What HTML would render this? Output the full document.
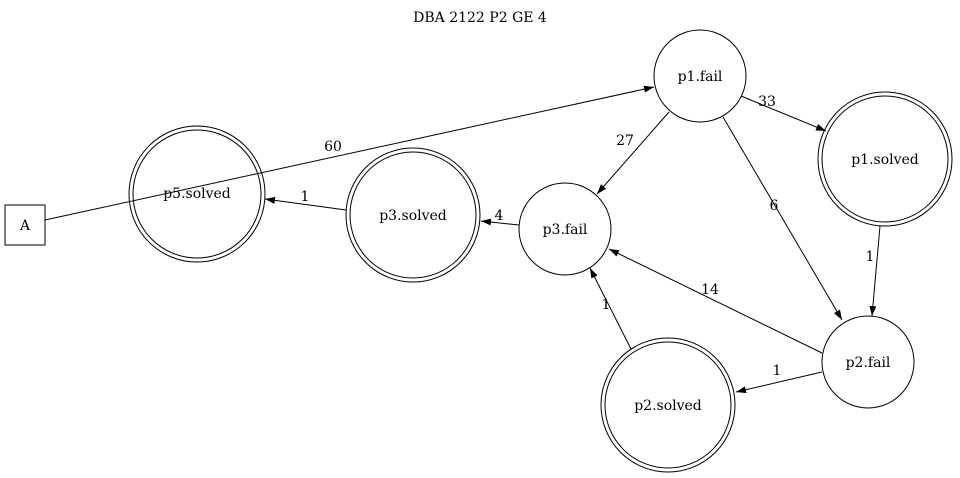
<!DOCTYPE html>
<html><head><meta charset="utf-8"><style>
html,body{margin:0;padding:0;background:#fff;}
svg{display:block;}
text{font-family:"DejaVu Serif",serif;font-size:14px;fill:#000;}
</style></head><body>
<svg width="960" height="478" viewBox="0 0 960 478" xmlns="http://www.w3.org/2000/svg">
<defs>
<marker id="a" viewBox="0 0 10 10" refX="10" refY="5" markerWidth="10" markerHeight="10" markerUnits="userSpaceOnUse" orient="auto">
<path d="M0,1.5 L10,5 L0,8.5 z" fill="#000"/>
</marker>
</defs>
<text x="480" y="22" text-anchor="middle">DBA 2122 P2 GE 4</text>
<g fill="none" stroke="#000" stroke-width="1">
<rect x="5" y="205" width="40" height="40"/>
<circle cx="197" cy="194" r="68"/><circle cx="197" cy="194" r="64"/>
<circle cx="413" cy="215" r="67"/><circle cx="413" cy="215" r="63"/>
<circle cx="565" cy="229" r="46"/>
<circle cx="700" cy="76" r="46"/>
<circle cx="885" cy="159" r="67"/><circle cx="885" cy="159" r="63"/>
<circle cx="868" cy="362" r="46"/>
<circle cx="668" cy="405" r="67"/><circle cx="668" cy="405" r="63"/>
<g marker-end="url(#a)">
<line x1="45" y1="220" x2="654" y2="87"/>
<line x1="741" y1="96" x2="826" y2="131"/>
<line x1="669" y1="112" x2="597" y2="194"/>
<line x1="723" y1="117" x2="842" y2="320"/>
<line x1="880" y1="226" x2="872" y2="316"/>
<line x1="822" y1="353" x2="609" y2="249"/>
<line x1="822" y1="372" x2="736" y2="392"/>
<line x1="631" y1="349" x2="590" y2="268"/>
<line x1="519" y1="225" x2="481" y2="221"/>
<line x1="346" y1="210" x2="265" y2="199"/>
</g>
</g>
<g text-anchor="middle">
<text x="25" y="230">A</text>
<text x="197" y="198">p5.solved</text>
<text x="413" y="220">p3.solved</text>
<text x="565" y="234">p3.fail</text>
<text x="700" y="81">p1.fail</text>
<text x="885" y="164">p1.solved</text>
<text x="868" y="367">p2.fail</text>
<text x="668" y="410">p2.solved</text>
<text x="333" y="151">60</text>
<text x="767" y="106">33</text>
<text x="625" y="145">27</text>
<text x="774" y="210">6</text>
<text x="870" y="261">1</text>
<text x="710" y="294">14</text>
<text x="777" y="375">1</text>
<text x="606" y="309">1</text>
<text x="499" y="220">4</text>
<text x="305" y="201">1</text>
</g>
</svg>
</body></html>
